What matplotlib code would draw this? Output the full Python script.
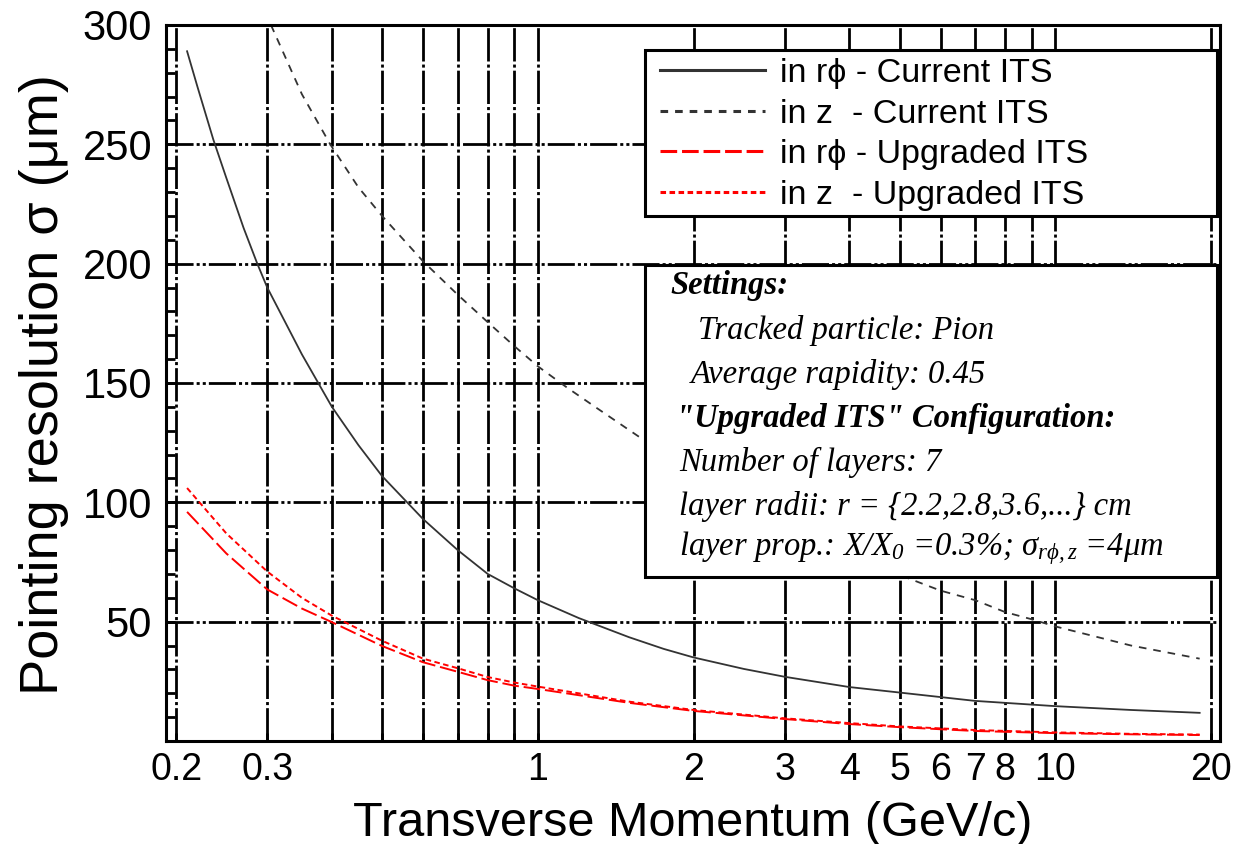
import matplotlib
matplotlib.use('Agg')
import matplotlib.pyplot as plt
from matplotlib.ticker import FixedLocator, NullFormatter, MultipleLocator
from matplotlib.patches import Rectangle

plt.rcParams['font.family'] = ['Liberation Sans', 'DejaVu Sans']
plt.rcParams['lines.scale_dashes'] = False
plt.rcParams['mathtext.fontset'] = 'custom'
plt.rcParams['mathtext.rm'] = 'Liberation Serif:italic'
plt.rcParams['mathtext.it'] = 'Liberation Serif:italic'
plt.rcParams['mathtext.bf'] = 'Liberation Serif:italic:bold'
plt.rcParams['mathtext.sf'] = 'Liberation Serif:italic'

# ---------------- data ----------------
p_cur_rphi = [0.21, 0.22, 0.236, 0.25, 0.27, 0.287, 0.3, 0.35, 0.4, 0.45, 0.5, 0.6, 0.7, 0.8,
              0.9, 1.0, 1.2, 1.5, 1.75, 2, 2.5, 3, 4, 5, 7, 10, 14, 19]
s_cur_rphi = [289, 274, 252, 236, 215, 200, 190, 162, 140, 124, 111, 93, 80, 70,
              64, 59, 51.5, 43.5, 38.6, 35, 30.2, 26.9, 22.6, 20.3, 16.8, 14.6, 13.0, 11.8]

p_cur_z = [0.305, 0.35, 0.397, 0.45, 0.5, 0.6, 0.7, 0.8, 0.9, 1.0, 1.14, 1.3, 1.58,
           2, 3, 4, 5.08, 6, 7, 8, 9, 10, 14, 19]
s_cur_z = [300, 271, 250, 232, 220, 201, 187, 175.5, 165.5, 157, 148, 139.5, 127,
           112, 90, 77, 69, 63, 59, 54, 51, 48, 40, 34.5]

p_upg = [0.21, 0.25, 0.3, 0.35, 0.4, 0.5, 0.6, 0.7, 0.8, 0.9, 1.0, 1.5, 2, 3, 4, 5, 7, 10, 14, 19]
s_upg_rphi = [96, 78.6, 63.5, 55.5, 49.8, 39.8, 33, 29, 25.5, 23.2, 21.8, 16, 12.6, 9.2, 7.1,
              5.8, 4.2, 3.3, 2.8, 2.5]
s_upg_z = [106, 87, 71, 60, 52.5, 42, 34.5, 30.5, 26.8, 24.5, 22.8, 16.5, 13, 9.5, 7.5,
           6.1, 4.6, 3.6, 3.0, 2.7]

legend_labels = ['in r\u03d5 - Current ITS', 'in z  - Current ITS',
                 'in r\u03d5 - Upgraded ITS', 'in z  - Upgraded ITS']

xtick_vals = [0.2, 0.3, 1, 2, 3, 4, 5, 6, 7, 8, 10, 20]
xtick_labels = ['0.2', '0.3', '1', '2', '3', '4', '5', '6', '7', '8', '10', '20']
xminor_vals = [0.4, 0.5, 0.6, 0.7, 0.8, 0.9, 9]
ytick_vals = [50, 100, 150, 200, 250, 300]

settings_lines = [
    ('Settings:', True),
    ('Tracked particle: Pion', False),
    ('Average rapidity: 0.45', False),
    ('"Upgraded ITS" Configuration:', True),
    ('Number of layers: 7', False),
    ('layer radii: r = {2.2,2.8,3.6,...} cm', False),
    (r'layer prop.: $X/X_{0}$ =0.3%; $\sigma_{r\phi,z}$ =4$\mu$m', False),
]

# ---------------- figure ----------------
W, H = 1233, 844
fig = plt.figure(figsize=(W / 100, H / 100), dpi=100)


def fx(px):
    return px / W


def fy(py):
    return 1 - py / H


ax = fig.add_axes([fx(166), fy(741), (1220 - 166) / W, (741 - 25) / H])
ax.set_xscale('log')

l1, = ax.plot(p_cur_rphi, s_cur_rphi, color='#333333', lw=1.3, ls='-')
l2, = ax.plot(p_cur_z, s_cur_z, color='#333333', lw=1.3, ls=(0, (5.5, 5)))
l3, = ax.plot(p_upg, s_upg_rphi, color='#ff0000', lw=1.4, ls=(0, (12, 3.5)))
l4, = ax.plot(p_upg, s_upg_z, color='#ff0000', lw=1.4, ls=(0, (4, 2.5)))

ax.set_xlim(0.1912, 20.8)
ax.set_ylim(0, 300)

ax.set_xticks(xtick_vals, labels=xtick_labels)
ax.xaxis.set_minor_locator(FixedLocator(xminor_vals))
ax.xaxis.set_minor_formatter(NullFormatter())
ax.set_yticks(ytick_vals)
ax.yaxis.set_minor_locator(MultipleLocator(10))

ax.tick_params(axis='y', which='both', direction='in', left=True, right=False,
               length=6.5, width=2.0, labelsize=30, pad=10)
ax.tick_params(axis='x', which='both', direction='in', bottom=True, top=False,
               length=6, width=2.0, labelsize=27, pad=8)

for sp in ax.spines.values():
    sp.set_linewidth(2.2)

ax.grid(True, which='major', axis='y', color='black', lw=2.0,
        linestyle=(0, (19.5, 2.2, 2.2, 2.2, 2.2, 2.2)))
ax.grid(True, which='both', axis='x', color='black', lw=2.0,
        linestyle=(0, (24, 2.2, 2.2, 2.2)))
ax.set_axisbelow(True)

ax.set_xlabel('Transverse Momentum (GeV/c)', fontsize=35)
ax.set_ylabel('Pointing resolution \u03c3 (\u03bcm)', fontsize=39)
ax.xaxis.label.set_va('center')
ax.yaxis.label.set_va('center')
ax.yaxis.label.set_ha('center')
ax.xaxis.set_label_coords(0.5, (741 - 823) / (741 - 25))
ax.yaxis.set_label_coords((44 - 166) / (1220 - 166), (741 - 385) / (741 - 25))

# legend box
leg_rect = Rectangle((fx(645), fy(216)), fx(1217) - fx(645), fy(50) - fy(216),
                     transform=fig.transFigure, facecolor='white', edgecolor='black',
                     lw=2.2, zorder=4)
fig.add_artist(leg_rect)
leg = fig.legend([l1, l2, l3, l4], legend_labels, loc='upper left',
                 bbox_to_anchor=(fx(660), fy(58)), bbox_transform=fig.transFigure,
                 frameon=False, borderpad=0, borderaxespad=0,
                 handlelength=3.1, handletextpad=0.42, labelspacing=0.28,
                 fontsize=24.5)
leg.set_zorder(5)
for lh in leg.get_lines():
    lh.set_linewidth(2.2)

# settings box
set_rect = Rectangle((fx(645), fy(577)), fx(1217) - fx(645), fy(265) - fy(577),
                     transform=fig.transFigure, facecolor='white', edgecolor='black',
                     lw=2.2, zorder=4)
fig.add_artist(set_rect)
row_y = [285, 330, 375, 418, 462, 507, 548]
row_x = [670, 698, 691, 676, 679, 679, 679]
for (txt, bold), yy, xx in zip(settings_lines, row_y, row_x):
    fig.text(fx(xx), fy(yy), txt, ha='left', va='center', fontsize=23.5,
             family=['Liberation Serif', 'DejaVu Serif'], style='italic',
             weight='bold' if bold else 'normal', zorder=6)

fig.savefig('out.png', dpi=100)
